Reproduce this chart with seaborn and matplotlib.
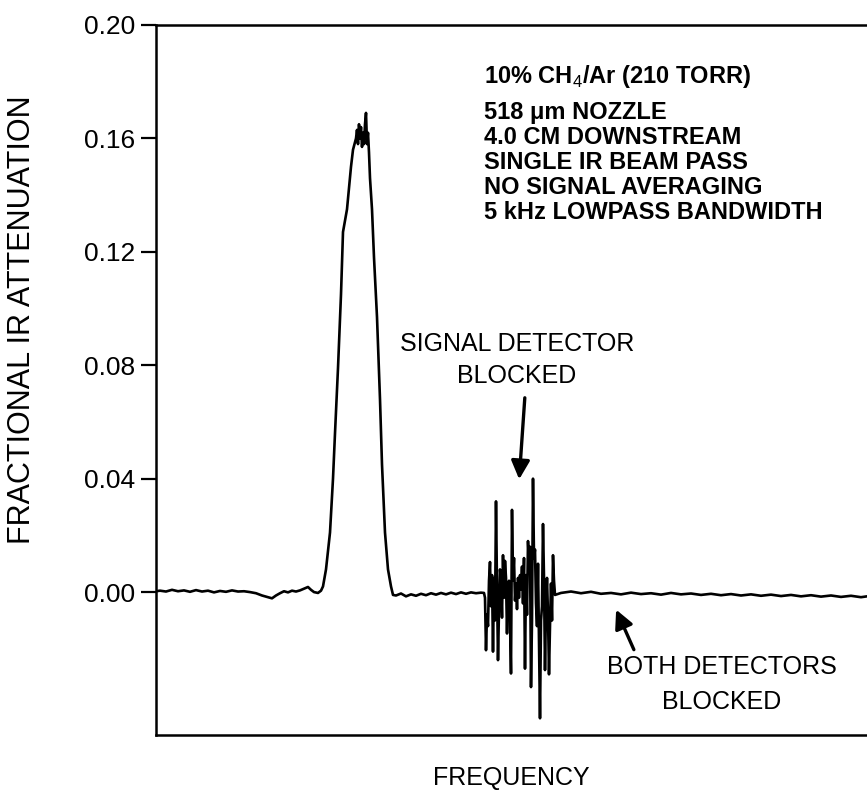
import numpy as np
import pandas as pd
import matplotlib
matplotlib.use("Agg")
import matplotlib.pyplot as plt
import seaborn as sns

# frequency axis in arbitrary channels (no scale printed on the original)
left_base_x = [0, 4, 10, 16, 22, 28, 34, 40, 46, 52, 58, 64, 70, 76, 82, 88, 94, 100, 106,
               112, 116, 120, 124, 128, 132, 136, 140, 144, 148, 152, 155, 158, 162, 165]
left_base_y = [0.0003, 0.0005, 0.0002, 0.0008, 0.0003, 0.0006, 0.0001, 0.0007, 0.0002, 0.0005,
               -0.0001, 0.0004, 0.0001, 0.0006, 0.0002, 0.0003, 0.0, -0.0004, -0.0012,
               -0.0018, -0.0022, -0.0012, -0.0004, 0.0003, -0.0001, 0.0005, 0.0002, 0.0006,
               0.0012, 0.0018, 0.0008, 0.0, -0.0003, 0.0005]

peak_x = [167, 170, 174, 177, 179, 182, 185, 187, 191, 195, 197, 200, 201, 202, 203, 204,
          205, 206, 207, 208, 209, 210, 211, 212, 213, 214, 216, 218, 221, 224, 226, 229,
          232, 235, 237]
peak_y = [0.002, 0.008, 0.021, 0.040, 0.056, 0.079, 0.105, 0.127, 0.135, 0.150, 0.156,
          0.160, 0.163, 0.158, 0.165, 0.160, 0.164, 0.157, 0.162, 0.158, 0.165, 0.169,
          0.158, 0.162, 0.155, 0.146, 0.135, 0.118, 0.097, 0.068, 0.045, 0.021, 0.008,
          0.002, -0.001]

mid_base_x = [240, 245, 250, 255, 260, 265, 270, 275, 280, 285, 290, 295, 300, 305, 310,
              315, 320, 325, 328]
mid_base_y = [-0.0012, -0.0005, -0.0015, -0.0008, -0.0013, -0.0006, -0.0011, -0.0004,
              -0.0009, -0.0003, -0.0008, -0.0002, -0.0007, -0.0001, -0.0006, -0.0001,
              -0.0004, -0.0002, -0.0003]

# signal detector blocked: noise burst
burst_x = [329, 330, 331, 332, 333, 334, 335, 336, 337, 338, 339, 340, 341, 342, 343, 344,
           345, 346, 347, 348, 349, 350, 351, 352, 353, 354, 355, 356, 357, 358, 359, 360,
           361, 362, 363, 364, 365, 366, 367, 368, 369, 370, 371, 372, 373, 374, 375, 376,
           377, 378, 379, 380, 381, 382, 383, 384, 385, 386, 387, 388, 389, 390, 391, 392,
           393, 394, 395, 396, 397, 398, 399]
burst_y = [-0.002, -0.0205, -0.008, -0.012, 0.004, 0.0106, -0.005, 0.006, -0.021, 0.005,
           -0.010, 0.032, 0.002, -0.024, -0.006, 0.008, 0.004, -0.009, 0.013, -0.002,
           0.011, 0.005, -0.0146, 0.002, 0.004, -0.010, -0.0287, 0.029, 0.004, 0.012,
           -0.003, 0.003, -0.006, 0.005, -0.002, 0.006, 0.001, 0.009, -0.004, 0.012,
           -0.027, 0.006, -0.008, 0.018, 0.010, 0.016, -0.0335, -0.010, 0.040, 0.012,
           0.015, -0.004, -0.012, 0.010, -0.016, -0.0445, -0.010, -0.005, 0.024, 0.005,
           -0.0275, -0.005, 0.005, -0.008, -0.029, -0.012, 0.003, -0.010, 0.013, 0.004,
           -0.001]

# both detectors blocked
right_base_x = [405, 415, 425, 435, 445, 455, 465, 475, 485, 495, 505, 515, 525, 535, 545,
                555, 565, 575, 585, 595, 605, 615, 625, 635, 645, 655, 665, 675, 685, 695,
                705, 711]
right_base_y = [-0.0003, 0.0002, -0.0004, 0.0001, -0.0006, -0.0003, -0.0008, -0.0002,
                -0.0007, -0.0004, -0.0009, -0.0003, -0.0008, -0.0005, -0.001, -0.0006,
                -0.0011, -0.0007, -0.0012, -0.0008, -0.0013, -0.0009, -0.0014, -0.001,
                -0.0015, -0.0011, -0.0016, -0.0012, -0.0017, -0.0013, -0.0018, -0.0015]

y_ticks = [0.00, 0.04, 0.08, 0.12, 0.16, 0.20]
y_tick_labels = ["0.00", "0.04", "0.08", "0.12", "0.16", "0.20"]

conditions = ["10% CH$_4$/Ar (210 TORR)", "518 \u03bcm NOZZLE", "4.0 CM DOWNSTREAM",
              "SINGLE IR BEAM PASS", "NO SIGNAL AVERAGING", "5 kHz LOWPASS BANDWIDTH"]

df = pd.DataFrame({
    "freq": left_base_x + peak_x + mid_base_x + burst_x + right_base_x,
    "atten": left_base_y + peak_y + mid_base_y + burst_y + right_base_y,
})

sns.set_style("ticks")
plt.rcParams["font.family"] = ["Liberation Sans", "DejaVu Sans"]
plt.rcParams["mathtext.fontset"] = "custom"
plt.rcParams["mathtext.rm"] = "Liberation Sans"
plt.rcParams["mathtext.bf"] = "Liberation Sans:bold"
plt.rcParams["text.color"] = "black"
plt.rcParams["axes.labelcolor"] = "black"

fig = plt.figure(figsize=(8.67, 8.06), dpi=100)
ax = fig.add_axes([156 / 867, 1 - 735 / 806, 711 / 867, 710 / 806])

sns.lineplot(data=df, x="freq", y="atten", color="black", linewidth=1.9,
             estimator=None, sort=False, ax=ax)

ax.set_xlim(0, 711)
ax.set_ylim(-0.0504, 0.20)
ax.set_xticks([])
ax.set_yticks(y_ticks)
ax.set_yticklabels(y_tick_labels, fontsize=19)
ax.tick_params(axis="y", direction="out", length=11, width=1.6, pad=4, colors="black")
for side in ["left", "bottom", "top"]:
    ax.spines[side].set_linewidth(1.8)
    ax.spines[side].set_color("black")
ax.spines["right"].set_visible(False)

ax.set_ylabel("FRACTIONAL IR ATTENUATION", fontsize=22)
ax.yaxis.set_label_coords(-0.168, 0.585)
ax.set_xlabel("FREQUENCY", fontsize=18, labelpad=22)

ax.text(328, 0.182, conditions[0], fontsize=17, fontweight="bold", ha="left", va="center")
for i, line in enumerate(conditions[1:]):
    ax.text(328, 0.1690 - i * 0.0088, line, fontsize=17, fontweight="bold",
            ha="left", va="center")

ax.annotate("", xy=(363, 0.0388), xytext=(369, 0.0695),
            arrowprops=dict(arrowstyle="-|>", mutation_scale=28, lw=2.4, color="black"))
ax.text(361, 0.072, "SIGNAL DETECTOR\nBLOCKED", fontsize=18, ha="center", va="bottom",
        linespacing=1.4)

ax.annotate("", xy=(459, -0.0053), xytext=(479, -0.0212),
            arrowprops=dict(arrowstyle="-|>", mutation_scale=28, lw=2.4, color="black"))
ax.text(566, -0.0222, "BOTH DETECTORS\nBLOCKED", fontsize=18, ha="center", va="top",
        linespacing=1.6)

fig.savefig("out.png", dpi=100)
